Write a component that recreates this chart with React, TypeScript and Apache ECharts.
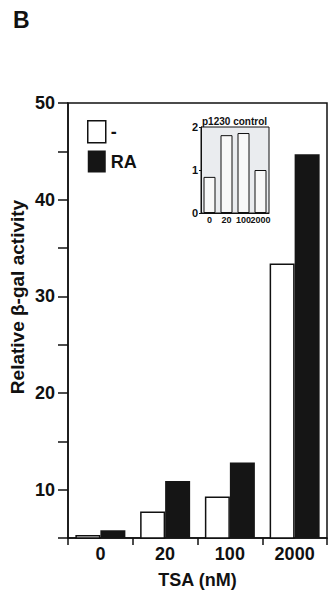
import React, { useEffect, useRef } from "react";
import * as echarts from "echarts";

const categories = ["0", "20", "100", "2000"];
const minusValues = [5.3, 7.75, 9.3, 33.4];
const raValues = [5.8, 10.9, 12.8, 44.7];
const insetCategories = ["0", "20", "100", "2000"];
const insetValues = [0.84, 1.81, 1.86, 1.0];
const yTicks = { min: 5, max: 50, interval: 5 };
const insetTicks = { min: 0, max: 2, interval: 1 };

const FONT = "'Liberation Sans', Arial, Helvetica, sans-serif";

export default function App() {
  const ref = useRef<HTMLDivElement>(null);
  useEffect(() => {
    if (!ref.current) return;
    const chart = echarts.init(ref.current, undefined, { renderer: "svg" });
    const bold = (size: number) => ({ fontFamily: FONT, fontWeight: "bold" as const, fontSize: size, color: "#111" });
    chart.setOption({
      animation: false,
      backgroundColor: "#ffffff",
      textStyle: { fontFamily: FONT },
      legend: {
        orient: "vertical",
        left: 82,
        top: 115,
        itemWidth: 18,
        itemHeight: 22,
        itemGap: 7,
        icon: "rect",
        textStyle: bold(18),
        data: [
          { name: "-", icon: "rect", itemStyle: { color: "#ffffff", borderColor: "#111", borderWidth: 1.5 } },
          { name: "RA", icon: "rect", itemStyle: { color: "#151515" } },
        ],
      },
      graphic: [
        { type: "text", left: 13, top: 8, style: { text: "B", font: `bold 23px ${FONT}`, fill: "#111" } },
        {
          type: "text",
          x: 17,
          y: 297,
          rotation: Math.PI / 2,
          style: { text: "Relative β-gal activity", font: `bold 19px ${FONT}`, fill: "#111", align: "center", verticalAlign: "middle" },
        },
      ],
      grid: [
        { left: 68, right: 1, top: 103, bottom: 48, show: true, borderColor: "#111", borderWidth: 1.5, backgroundColor: "transparent", containLabel: false },
        { left: 201, top: 127, width: 68, height: 86, show: true, borderColor: "#111", borderWidth: 1, backgroundColor: "#eaecef", containLabel: false },
      ],
      xAxis: [
        {
          type: "category",
          gridIndex: 0,
          data: categories,
          axisLine: { lineStyle: { color: "#111", width: 1.5 } },
          axisTick: { show: true, length: 7, inside: false, lineStyle: { color: "#111", width: 1.5 } },
          axisLabel: { ...bold(18), margin: 7 },
          name: "TSA (nM)",
          nameLocation: "middle",
          nameGap: 33,
          nameTextStyle: bold(18),
        },
        {
          type: "category",
          gridIndex: 1,
          data: insetCategories,
          axisLine: { lineStyle: { color: "#111", width: 1 } },
          axisTick: { show: false },
          axisLabel: { ...bold(9), margin: 2, interval: 0 },
        },
      ],
      yAxis: [
        {
          type: "value",
          gridIndex: 0,
          min: yTicks.min,
          max: yTicks.max,
          interval: yTicks.interval,
          splitLine: { show: false },
          axisLine: { show: true, lineStyle: { color: "#111", width: 1.5 } },
          axisTick: { show: true, length: 10, lineStyle: { color: "#111", width: 1.5 } },
          axisLabel: { ...bold(18), margin: 13, formatter: (v: number) => (v % 10 === 0 ? String(v) : "") },
        },
        {
          type: "value",
          gridIndex: 1,
          min: insetTicks.min,
          max: insetTicks.max,
          interval: insetTicks.interval,
          splitLine: { show: false },
          axisLine: { show: true, lineStyle: { color: "#111", width: 1 } },
          axisTick: { show: true, length: 2, lineStyle: { color: "#111" } },
          axisLabel: { ...bold(11), margin: 3 },
          name: "p1230 control",
          nameLocation: "end",
          nameGap: 1,
          nameTextStyle: { ...bold(10), align: "left", padding: [0, 0, 0, 1] },
        },
      ],
      series: [
        {
          name: "-",
          type: "bar",
          xAxisIndex: 0,
          yAxisIndex: 0,
          data: minusValues,
          barWidth: 25,
          barGap: "0%",
          itemStyle: { color: "#ffffff", borderColor: "#111", borderWidth: 1.5 },
        },
        {
          name: "RA",
          type: "bar",
          xAxisIndex: 0,
          yAxisIndex: 0,
          data: raValues,
          barWidth: 25,
          barGap: "0%",
          itemStyle: { color: "#151515" },
        },
        {
          name: "p1230",
          type: "bar",
          xAxisIndex: 1,
          yAxisIndex: 1,
          data: insetValues,
          barWidth: 12,
          itemStyle: { color: "#f8f8f8", borderColor: "#111", borderWidth: 1 },
        },
      ],
    });
    return () => chart.dispose();
  }, []);
  return <div ref={ref} style={{ position: "fixed", left: 0, top: 0, width: 328, height: 594 }} />;
}
